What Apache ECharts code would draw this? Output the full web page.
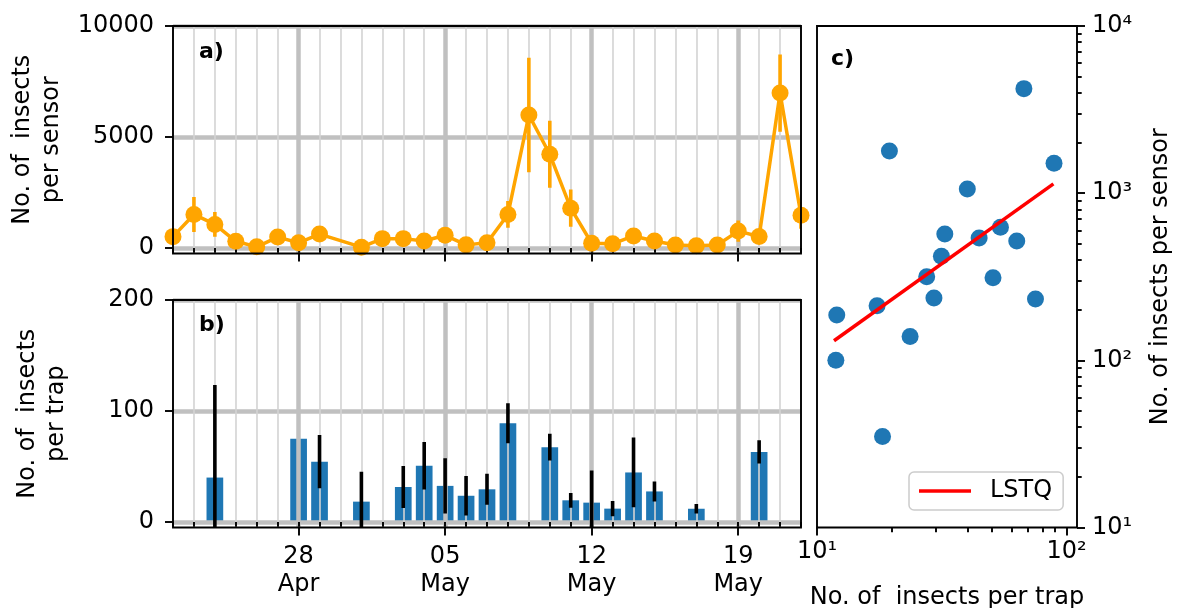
<!DOCTYPE html>
<html>
<head>
<meta charset="UTF-8">
<title>insects per sensor / trap</title>
<script src="https://cdn.jsdelivr.net/npm/echarts@6/dist/echarts.min.js"></script>
<style>
  html, body { margin: 0; padding: 0; background: #fff; }
  #chart { width: 1177px; height: 608px; }
</style>
</head>
<body>
<div id="chart"></div>
<script>
// sensor counts, one per day (no reading on 30 Apr)
var days = ['2019-04-22', '2019-04-23', '2019-04-24', '2019-04-25', '2019-04-26', '2019-04-27', '2019-04-28',
  '2019-04-29', '2019-04-30', '2019-05-01', '2019-05-02', '2019-05-03', '2019-05-04', '2019-05-05',
  '2019-05-06', '2019-05-07', '2019-05-08', '2019-05-09', '2019-05-10', '2019-05-11', '2019-05-12',
  '2019-05-13', '2019-05-14', '2019-05-15', '2019-05-16', '2019-05-17', '2019-05-18', '2019-05-19',
  '2019-05-20', '2019-05-21', '2019-05-22'];
var sensor = [510, 1510, 1060, 300, 50, 490, 233, 625, null, 35, 420, 420, 312, 570, 139, 236, 1510, 5990,
  4220, 1790, 212, 187, 540, 316, 130, 100, 130, 760, 518, 6980, 1470];
var sensorErr = [200, 790, 560, 150, 100, 200, 150, 200, null, 50, 200, 200, 150, 250, 100, 150, 600, 2580,
  1510, 840, 150, 150, 250, 200, 100, 100, 100, 480, 200, 1740, 600];

// trap counts (days with a catch)
var trapDays = ['2019-04-24', '2019-04-28', '2019-04-29', '2019-05-01', '2019-05-03', '2019-05-04', '2019-05-05',
  '2019-05-06', '2019-05-07', '2019-05-08', '2019-05-10', '2019-05-11', '2019-05-12', '2019-05-13',
  '2019-05-14', '2019-05-15', '2019-05-17', '2019-05-20'];
var trap = [40, 75, 54.3, 18.3, 31.5, 50.7, 32.5, 23.6, 29.4, 89, 67.4, 19.5, 17.4, 12, 44.6, 27.5, 11.9, 63.1];
var trapErr = [83.5, 0, 24, 27, 19, 21.4, 24.8, 17.8, 14, 18, 12, 6.6, 29, 6.8, 31.4, 9, 4.2, 10.5];

// least squares line (ends)
var lstqX = [11.7, 88.5];
var lstqY = [131, 1137];

// ticks
var weekTicks = ['2019-04-28', '2019-05-05', '2019-05-12', '2019-05-19'];
var sensorTicks = [0, 5000, 10000];
var trapTicks = [0, 100, 200];
var decX = [10, 100];
var decY = [10, 100, 1000, 10000];
var minorX = [20, 30, 40, 50, 60, 70, 80, 90];
var minorY = [20, 30, 40, 50, 60, 70, 80, 90, 200, 300, 400, 500, 600, 700, 800, 900,
  2000, 3000, 4000, 5000, 6000, 7000, 8000, 9000];

var months = ['Jan', 'Feb', 'Mar', 'Apr', 'May', 'Jun', 'Jul', 'Aug', 'Sep', 'Oct', 'Nov', 'Dec'];
var sup = { 1: '\u00b9', 2: '\u00b2', 3: '\u00b3', 4: '\u2074' };
var FONT = 'DejaVu Sans';
var FS = 24;
var ORANGE = '#ffa500', BLUE = '#1f77b4';

var gA = { left: 173, top: 26, width: 628, height: 227.5, outerBoundsMode: 'none' };
var gB = { left: 173, top: 300, width: 628, height: 227.5, outerBoundsMode: 'none' };
var gC = { left: 817, top: 26, width: 260, height: 501.5, outerBoundsMode: 'none' };

function lg(v) { return Math.log(v) / Math.LN10; }
// date string -> local timestamp
function ts(s) {
  var p = s.split('-');
  return new Date(+p[0], +p[1] - 1, +p[2]).getTime();
}

var dayT = days.map(ts);
var weekT = weekTicks.map(ts);

// pairs for the scatter: trap count vs sensor count of the same day
var pairs = trapDays.map(function (d, i) {
  return [trap[i], sensor[days.indexOf(d)]];
});

var sensorLine = days.map(function (d, i) { return [ts(d), sensor[i]]; });
var sensorBars = [];
days.forEach(function (d, i) {
  if (sensor[i] != null) sensorBars.push([ts(d), sensor[i] - sensorErr[i], sensor[i] + sensorErr[i]]);
});
var trapData = trapDays.map(function (d, i) { return [ts(d), trap[i]]; });
var trapBars = [];
trapDays.forEach(function (d, i) {
  if (trapErr[i] > 0) trapBars.push([ts(d), trap[i] - trapErr[i], trap[i] + trapErr[i]]);
});

function errItem(color) {
  return function (params, api) {
    var p1 = api.coord([api.value(0), api.value(1)]);
    var p2 = api.coord([api.value(0), api.value(2)]);
    return {
      type: 'line',
      shape: { x1: p1[0], y1: p1[1], x2: p2[0], y2: p2[1] },
      style: { stroke: color, lineWidth: 3.6 }
    };
  };
}

var tickStyle = { color: '#000', width: 1.9 };
var labelStyle = { fontFamily: FONT, fontSize: FS, color: '#000' };
var majorGrid = { color: '#c0c0c0', width: 4.5 };
var minorGrid = { color: '#d3d3d3', width: 1.6 };
function plain(v) { return String(v); }

function dayAxis(grid, z) {
  return {
    type: 'value', gridIndex: grid, position: 'bottom', min: dayT[0], max: dayT[dayT.length - 1], z: z,
    axisLine: { show: false },
    axisTick: { show: true, customValues: dayT, length: 4.7, lineStyle: tickStyle },
    axisLabel: { show: false },
    splitLine: { show: true, lineStyle: minorGrid }
  };
}
function weekAxis(grid, z, labels) {
  return {
    type: 'value', gridIndex: grid, position: 'bottom', min: dayT[0], max: dayT[dayT.length - 1], z: z,
    axisLine: { show: false },
    axisTick: { show: true, customValues: weekT, length: 8, lineStyle: tickStyle },
    axisLabel: {
      show: labels, customValues: weekT, margin: 15, lineHeight: 28,
      fontFamily: FONT, fontSize: FS, color: '#000',
      formatter: function (v) {
        var d = new Date(v);
        var dd = d.getDate();
        return (dd < 10 ? '0' + dd : dd) + '\n' + months[d.getMonth()];
      }
    },
    splitLine: { show: true, lineStyle: majorGrid }
  };
}

var chart = echarts.init(document.getElementById('chart'), null, { renderer: 'canvas' });

var option = {
  animation: false,
  backgroundColor: '#fff',
  textStyle: { fontFamily: FONT },
  grid: [gA, gB, gC],
  legend: {
    data: [{ name: 'LSTQ', icon: 'rect' }],
    left: 909, top: 472,
    itemWidth: 52, itemHeight: 3.5,
    padding: [7, 11, 7, 10],
    backgroundColor: 'rgba(255,255,255,0.8)',
    borderColor: '#cccccc', borderWidth: 1.5, borderRadius: 5,
    textStyle: { fontFamily: FONT, fontSize: FS, color: '#000', padding: [0, 0, 0, 14] }
  },
  xAxis: [
    dayAxis(0, 0), weekAxis(0, 0, false),
    dayAxis(1, 3), weekAxis(1, 3, true),
    { type: 'log', logBase: 10, gridIndex: 2, position: 'bottom', min: 10, max: 110, show: false },
    {
      type: 'value', gridIndex: 2, position: 'bottom', min: 1, max: lg(110),
      axisLine: { show: false },
      axisTick: { show: true, customValues: decX.map(lg), length: 8, lineStyle: tickStyle },
      axisLabel: {
        show: true, customValues: decX.map(lg), margin: 12, fontFamily: FONT, fontSize: FS, color: '#000',
        formatter: function (v) { return '10' + sup[Math.round(v)]; }
      },
      splitLine: { show: false },
      name: 'No. of  insects per trap', nameLocation: 'middle', nameGap: 58,
      nameTextStyle: labelStyle
    },
    {
      type: 'value', gridIndex: 2, position: 'bottom', min: 1, max: lg(110),
      axisLine: { show: false },
      axisTick: { show: true, customValues: minorX.map(lg), length: 4.7, lineStyle: tickStyle },
      axisLabel: { show: false },
      splitLine: { show: false }
    }
  ],
  yAxis: [
    {
      type: 'value', gridIndex: 0, position: 'left', min: -250, max: 10000,
      axisLine: { show: false },
      axisTick: { show: true, customValues: sensorTicks, length: 8, lineStyle: tickStyle },
      axisLabel: { show: true, customValues: sensorTicks, margin: 19, formatter: plain,
        fontFamily: FONT, fontSize: FS, color: '#000' },
      splitLine: { show: true, lineStyle: majorGrid },
      name: 'No. of  insects\nper sensor', nameLocation: 'middle', nameGap: 107,
      nameTextStyle: { fontFamily: FONT, fontSize: FS, color: '#000', lineHeight: 29 }
    },
    {
      type: 'value', gridIndex: 1, position: 'left', min: -5, max: 200, z: 3,
      axisLine: { show: false },
      axisTick: { show: true, customValues: trapTicks, length: 8, lineStyle: tickStyle },
      axisLabel: { show: true, customValues: trapTicks, margin: 19, formatter: plain,
        fontFamily: FONT, fontSize: FS, color: '#000' },
      splitLine: { show: true, lineStyle: majorGrid },
      name: 'No. of  insects\nper trap', nameLocation: 'middle', nameGap: 102,
      nameTextStyle: { fontFamily: FONT, fontSize: FS, color: '#000', lineHeight: 29 }
    },
    { type: 'log', logBase: 10, gridIndex: 2, min: 10, max: 10000, position: 'right', show: false },
    {
      type: 'value', gridIndex: 2, min: 1, max: 4, position: 'right',
      axisLine: { show: false },
      axisTick: { show: true, customValues: decY.map(lg), length: 8, lineStyle: tickStyle },
      axisLabel: {
        show: true, customValues: decY.map(lg), margin: 15, fontFamily: FONT, fontSize: FS, color: '#000',
        formatter: function (v) { return '10' + sup[Math.round(v)]; }
      },
      splitLine: { show: false },
      name: 'No. of insects per sensor', nameLocation: 'middle', nameGap: 72,
      nameTextStyle: labelStyle
    },
    {
      type: 'value', gridIndex: 2, min: 1, max: 4, position: 'right',
      axisLine: { show: false },
      axisTick: { show: true, customValues: minorY.map(lg), length: 4.7, lineStyle: tickStyle },
      axisLabel: { show: false },
      splitLine: { show: false }
    }
  ],
  series: [
    {
      type: 'custom', name: 'sensor err', xAxisIndex: 1, yAxisIndex: 0, z: 2, clip: true,
      renderItem: errItem(ORANGE), data: sensorBars
    },
    {
      type: 'line', name: 'sensor', xAxisIndex: 1, yAxisIndex: 0, z: 3,
      data: sensorLine, connectNulls: true, showAllSymbol: true,
      symbol: 'circle', symbolSize: 17,
      lineStyle: { color: ORANGE, width: 3.5 },
      itemStyle: { color: ORANGE }
    },
    {
      type: 'bar', name: 'trap', xAxisIndex: 3, yAxisIndex: 1, z: 2,
      data: trapData, barWidth: 16.7, itemStyle: { color: BLUE }
    },
    {
      type: 'custom', name: 'trap err', xAxisIndex: 3, yAxisIndex: 1, z: 4, clip: true,
      renderItem: errItem('#000'), data: trapBars
    },
    {
      type: 'scatter', name: 'pairs', xAxisIndex: 4, yAxisIndex: 2, z: 2,
      data: pairs, symbolSize: 17, itemStyle: { color: BLUE, opacity: 1 }
    },
    {
      type: 'line', name: 'LSTQ', xAxisIndex: 4, yAxisIndex: 2, z: 5,
      data: [[lstqX[0], lstqY[0]], [lstqX[1], lstqY[1]]],
      showSymbol: false, symbol: 'none',
      lineStyle: { color: '#ff0000', width: 3.5 },
      itemStyle: { color: '#ff0000' }
    }
  ],
  graphic: [
    { type: 'rect', z: 100, shape: { x: gA.left, y: gA.top, width: gA.width, height: gA.height },
      style: { fill: null, stroke: '#000', lineWidth: 1.9 } },
    { type: 'rect', z: 100, shape: { x: gB.left, y: gB.top, width: gB.width, height: gB.height },
      style: { fill: null, stroke: '#000', lineWidth: 1.9 } },
    { type: 'rect', z: 100, shape: { x: gC.left, y: gC.top, width: gC.width, height: gC.height },
      style: { fill: null, stroke: '#000', lineWidth: 1.9 } },
    { type: 'text', z: 100, left: 199, top: 41,
      style: { text: 'a)', font: 'bold 22px "DejaVu Sans"', fill: '#000' } },
    { type: 'text', z: 100, left: 199, top: 314,
      style: { text: 'b)', font: 'bold 22px "DejaVu Sans"', fill: '#000' } },
    { type: 'text', z: 100, left: 831, top: 48,
      style: { text: 'c)', font: 'bold 22px "DejaVu Sans"', fill: '#000' } }
  ]
};

chart.setOption(option);
</script>
</body>
</html>
